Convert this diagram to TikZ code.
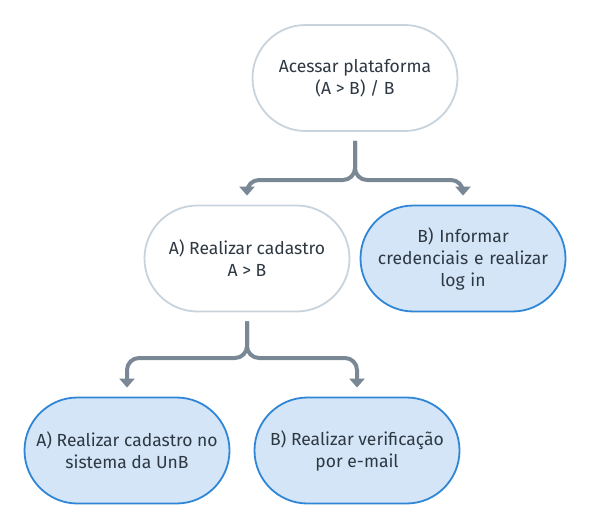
\documentclass[tikz,border=0pt]{standalone}
\usepackage{fontspec}
\setmainfont{Fira Sans}
\usetikzlibrary{arrows.meta,calc}
\definecolor{conn}{HTML}{7A8896}
\definecolor{grayb}{HTML}{C8D3DC}
\definecolor{blueb}{HTML}{2F86D6}
\definecolor{bluef}{HTML}{D4E5F7}
\definecolor{txt}{HTML}{2E3842}
\tikzset{
  pill/.style={draw, line width=1.8pt, rounded corners=53pt, minimum width=205pt,
    minimum height=106pt, align=center, text=txt, font=\fontsize{17.5}{22}\selectfont, inner sep=0pt},
  plain/.style={pill, draw=grayb, fill=white},
  blue/.style={pill, draw=blueb, fill=bluef},
  link/.style={draw=conn, line width=4pt, rounded corners=12pt,
    -{Triangle[width=15pt,length=9pt]}, shorten >=9pt},
}
\begin{document}
\begin{tikzpicture}[x=1pt,y=-1pt]
\useasboundingbox (0,0) rectangle (590,530);
\node[plain] (top) at (355,78) {Acessar plataforma\\(A > B) / B};
\node[plain] (a) at (247,258.5) {A) Realizar cadastro\\A > B};
\node[blue, text width=190pt] (b) at (463,258.5) {B) Informar\\credenciais e realizar\\log in};
\node[blue] (aa) at (127,450.5) {A) Realizar cadastro no\\sistema da UnB};
\node[blue] (ab) at (357,450.5) {B) Realizar verificação\\por e-mail};
\coordinate (j1) at (355,180);
\coordinate (j2) at (247,358);
\draw[link] ($(top.south)+(0,9)$) -- (j1) -| (a.north);
\draw[link] ($(top.south)+(0,9)$) -- (j1) -| (b.north);
\draw[link] ($(a.south)+(0,9)$) -- (j2) -| (aa.north);
\draw[link] ($(a.south)+(0,9)$) -- (j2) -| (ab.north);
\end{tikzpicture}
\end{document}
